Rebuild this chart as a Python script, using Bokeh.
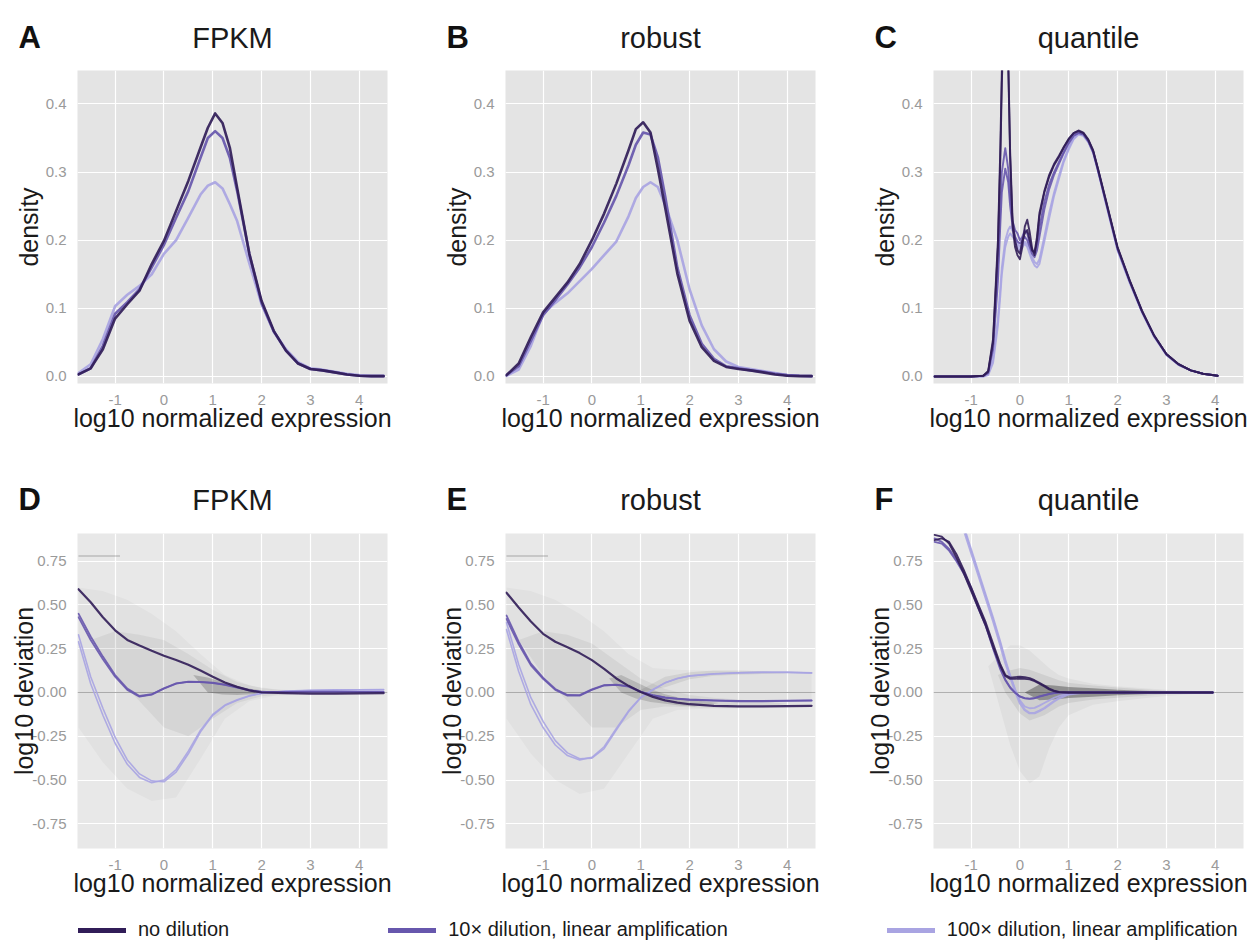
from bokeh.plotting import figure
from bokeh.layouts import column, row
from bokeh.models import (Label, Legend, LegendItem, FixedTicker,
                          NumeralTickFormatter, Span, Range1d)
from bokeh.embed import file_html
from bokeh.resources import INLINE

nan = float("nan")
FONT = "Liberation Sans"

# ---------------- categories / labels ----------------
series_labels = ["no dilution", "10× dilution, linear amplification",
                 "100× dilution, linear amplification"]
series_colors = ["#311d58", "#6757ad", "#a9a4e2"]
panel_letters = ["A", "B", "C", "D", "E", "F"]
panel_titles = ["FPKM", "robust", "quantile", "FPKM", "robust", "quantile"]
x_label = "log10 normalized expression"
y_label_top = "density"
y_label_bottom = "log10 deviation"
x_ticks = [-1, 0, 1, 2, 3, 4]
dens_ticks = [0.0, 0.1, 0.2, 0.3, 0.4]
dev_ticks = [-0.75, -0.5, -0.25, 0.0, 0.25, 0.5, 0.75]
x_limits = [-1.77, 4.58]
dens_limits = [-0.0103, 0.449]
dev_limits = [-0.891, 0.908]
zero_level = 0.0

# ---------------- A / B : density ----------------
x_ab = [-1.75, -1.5, -1.25, -1.0, -0.75, -0.5, -0.25, 0.0, 0.25, 0.5, 0.75, 0.9, 1.05,
        1.2, 1.35, 1.5, 1.75, 2.0, 2.25, 2.5, 2.75, 3.0, 3.25, 3.5, 3.75, 4.0, 4.25, 4.5]
a_none = [0.003, 0.012, 0.04, 0.085, 0.106, 0.126, 0.165, 0.199, 0.243, 0.287, 0.336, 0.365, 0.386,
          0.372, 0.336, 0.277, 0.18, 0.111, 0.067, 0.038, 0.019, 0.011, 0.009, 0.006, 0.003, 0.001, 0.0005, 0.0005]
a_10x = [0.003, 0.012, 0.045, 0.092, 0.109, 0.128, 0.16, 0.193, 0.233, 0.272, 0.321, 0.35, 0.36,
         0.35, 0.321, 0.272, 0.18, 0.108, 0.066, 0.038, 0.019, 0.011, 0.009, 0.006, 0.003, 0.001, 0.0005, 0.0005]
a_100x = [0.005, 0.018, 0.055, 0.103, 0.12, 0.133, 0.15, 0.18, 0.2, 0.233, 0.267, 0.28, 0.285,
          0.276, 0.253, 0.228, 0.166, 0.106, 0.066, 0.04, 0.021, 0.012, 0.01, 0.007, 0.004, 0.002, 0.001, 0.001]
b_none = [0.002, 0.019, 0.058, 0.094, 0.116, 0.138, 0.165, 0.2, 0.239, 0.283, 0.332, 0.363, 0.373,
          0.358, 0.305, 0.248, 0.151, 0.082, 0.043, 0.023, 0.014, 0.011, 0.009, 0.006, 0.003, 0.001, 0.0005, 0.0005]
b_10x = [0.002, 0.015, 0.052, 0.09, 0.112, 0.135, 0.16, 0.19, 0.226, 0.265, 0.31, 0.34, 0.358,
         0.355, 0.322, 0.265, 0.16, 0.09, 0.048, 0.026, 0.015, 0.012, 0.009, 0.007, 0.004, 0.002, 0.001, 0.0005]
b_100x = [0.001, 0.01, 0.045, 0.092, 0.108, 0.122, 0.14, 0.158, 0.178, 0.198, 0.235, 0.262, 0.278,
          0.285, 0.278, 0.252, 0.2, 0.128, 0.075, 0.04, 0.022, 0.014, 0.011, 0.008, 0.005, 0.002, 0.001, 0.0005]

# ---------------- C : density, quantile (two replicates each) ----------------
x_c = [-1.75, -1.0, -0.75, -0.65, -0.55, -0.45, -0.4, -0.37, -0.3, -0.24, -0.2, -0.15, -0.1, -0.05,
       0.0, 0.05, 0.1, 0.15, 0.2, 0.25, 0.3, 0.35, 0.4, 0.5, 0.6, 0.7, 0.8, 0.9, 1.0, 1.1, 1.2, 1.3,
       1.4, 1.5, 1.6, 1.75, 2.0, 2.25, 2.5, 2.75, 3.0, 3.25, 3.5, 3.75, 4.05]
c_none_1 = [0, 0, 0.001, 0.008, 0.055, 0.2, 0.34, 0.45, 0.62, 0.46, 0.32, 0.22, 0.19, 0.178,
            0.172, 0.19, 0.22, 0.23, 0.212, 0.188, 0.178, 0.2, 0.235, 0.27, 0.293, 0.31, 0.322, 0.336, 0.348, 0.357, 0.361, 0.358,
            0.348, 0.332, 0.305, 0.262, 0.19, 0.141, 0.097, 0.06, 0.033, 0.018, 0.009, 0.004, 0.001]
c_none_2 = [0, 0, 0.001, 0.007, 0.05, 0.19, 0.32, 0.43, 0.6, 0.47, 0.33, 0.23, 0.2, 0.185,
            0.18, 0.2, 0.21, 0.215, 0.2, 0.185, 0.182, 0.205, 0.24, 0.272, 0.296, 0.312, 0.324, 0.337, 0.349, 0.357, 0.36, 0.357,
            0.347, 0.331, 0.304, 0.261, 0.189, 0.14, 0.096, 0.06, 0.033, 0.018, 0.009, 0.004, 0.001]
c_10x_1 = [0, 0, 0.001, 0.006, 0.045, 0.16, 0.25, 0.3, 0.335, 0.305, 0.265, 0.228, 0.215, 0.21,
           0.2, 0.205, 0.215, 0.21, 0.195, 0.184, 0.182, 0.195, 0.218, 0.256, 0.282, 0.3, 0.315, 0.33, 0.344, 0.354, 0.358, 0.356,
           0.346, 0.33, 0.303, 0.26, 0.188, 0.14, 0.096, 0.06, 0.033, 0.018, 0.009, 0.004, 0.001]
c_10x_2 = [0, 0, 0.001, 0.005, 0.04, 0.14, 0.225, 0.27, 0.305, 0.285, 0.25, 0.22, 0.205, 0.198,
           0.195, 0.2, 0.205, 0.2, 0.19, 0.18, 0.175, 0.185, 0.205, 0.245, 0.275, 0.296, 0.312, 0.328, 0.342, 0.353, 0.357, 0.355,
           0.345, 0.329, 0.302, 0.259, 0.187, 0.139, 0.095, 0.059, 0.032, 0.017, 0.009, 0.004, 0.001]
c_100x_1 = [0, 0, 0.0, 0.003, 0.025, 0.085, 0.13, 0.16, 0.2, 0.215, 0.22, 0.214, 0.205, 0.195,
            0.19, 0.194, 0.198, 0.194, 0.185, 0.175, 0.168, 0.165, 0.172, 0.205, 0.24, 0.27, 0.295, 0.318, 0.336, 0.35, 0.356, 0.354,
            0.345, 0.329, 0.302, 0.258, 0.186, 0.138, 0.095, 0.059, 0.032, 0.017, 0.009, 0.004, 0.001]
c_100x_2 = [0, 0, 0.0, 0.002, 0.02, 0.075, 0.12, 0.15, 0.19, 0.205, 0.21, 0.205, 0.2, 0.19,
            0.185, 0.19, 0.195, 0.19, 0.18, 0.17, 0.163, 0.16, 0.165, 0.198, 0.232, 0.265, 0.29, 0.315, 0.333, 0.348, 0.355, 0.353,
            0.344, 0.328, 0.301, 0.257, 0.185, 0.137, 0.094, 0.058, 0.032, 0.017, 0.009, 0.004, 0.001]

# ---------------- D / E : deviation ----------------
x_dev = [-1.75, -1.5, -1.25, -1.0, -0.75, -0.5, -0.25, 0.0, 0.25, 0.5, 0.75, 1.0, 1.25, 1.5,
         1.75, 2.0, 2.5, 3.0, 3.5, 4.0, 4.5]
d_none = [0.59, 0.515, 0.43, 0.355, 0.30, 0.268, 0.238, 0.21, 0.186, 0.158, 0.125, 0.09, 0.057, 0.032,
          0.012, 0.0, -0.004, -0.006, -0.006, -0.005, -0.004]
d_10x_1 = [0.45, 0.32, 0.205, 0.1, 0.022, -0.02, -0.01, 0.024, 0.052, 0.062, 0.061, 0.056, 0.045, 0.03,
           0.013, 0.004, 0.004, 0.005, 0.005, 0.004, 0.003]
d_10x_2 = [0.43, 0.3, 0.19, 0.09, 0.015, -0.024, -0.012, 0.022, 0.05, 0.06, 0.059, 0.054, 0.043, 0.028,
           0.012, 0.003, 0.003, 0.004, 0.004, 0.003, 0.002]
d_100x_1 = [0.33, 0.09, -0.09, -0.255, -0.385, -0.465, -0.505, -0.51, -0.455, -0.35, -0.225, -0.13, -0.075, -0.045,
            -0.02, -0.005, 0.008, 0.012, 0.015, 0.016, 0.017]
d_100x_2 = [0.29, 0.05, -0.13, -0.29, -0.41, -0.485, -0.515, -0.5, -0.44, -0.335, -0.215, -0.125, -0.072, -0.042,
            -0.018, -0.004, 0.007, 0.011, 0.013, 0.014, 0.015]
e_none = [0.57, 0.485, 0.405, 0.335, 0.29, 0.258, 0.225, 0.185, 0.135, 0.08, 0.038, 0.003, -0.025, -0.045,
          -0.058, -0.067, -0.076, -0.079, -0.079, -0.078, -0.076]
e_10x_1 = [0.44, 0.29, 0.165, 0.085, 0.02, -0.014, -0.015, 0.018, 0.042, 0.045, 0.036, 0.005, -0.015, -0.028,
           -0.035, -0.04, -0.045, -0.048, -0.048, -0.046, -0.045]
e_10x_2 = [0.42, 0.275, 0.155, 0.078, 0.015, -0.018, -0.018, 0.015, 0.04, 0.043, 0.033, 0.003, -0.017, -0.03,
           -0.037, -0.042, -0.047, -0.05, -0.05, -0.048, -0.047]
e_100x_1 = [0.40, 0.16, -0.03, -0.165, -0.275, -0.345, -0.378, -0.375, -0.32, -0.215, -0.11, -0.03, 0.015, 0.055,
            0.08, 0.095, 0.107, 0.113, 0.116, 0.116, 0.112]
e_100x_2 = [0.36, 0.12, -0.07, -0.2, -0.3, -0.36, -0.385, -0.37, -0.31, -0.205, -0.105, -0.028, 0.017, 0.056,
            0.08, 0.094, 0.106, 0.112, 0.115, 0.115, 0.111]

# ---------------- F : deviation, quantile ----------------
x_f = [-1.75, -1.6, -1.45, -1.3, -1.15, -1.0, -0.85, -0.7, -0.55, -0.4, -0.3, -0.2, -0.1, 0.0, 0.1,
       0.2, 0.3, 0.4, 0.5, 0.6, 0.7, 0.8, 1.0, 1.25, 1.5, 2.0, 2.5, 3.0, 3.5, 3.95]
f_none_1 = [0.87, 0.88, 0.86, 0.79, 0.7, 0.6, 0.5, 0.4, 0.28, 0.16, 0.1, 0.085, 0.088, 0.09, 0.088,
            0.082, 0.07, 0.055, 0.04, 0.022, 0.01, 0.003, 0.0, 0.0, 0.0, 0.0, 0.0, 0.0, 0.0, 0.0]
f_none_2 = [0.9, 0.89, 0.85, 0.77, 0.68, 0.58, 0.48, 0.38, 0.26, 0.15, 0.095, 0.078, 0.078, 0.08, 0.078,
            0.075, 0.065, 0.05, 0.034, 0.018, 0.007, 0.002, 0.0, 0.0, 0.0, 0.0, 0.0, 0.0, 0.0, 0.0]
f_10x_1 = [0.88, 0.86, 0.82, 0.76, 0.69, 0.6, 0.49, 0.39, 0.26, 0.14, 0.075, 0.03, 0.0, -0.022, -0.032,
           -0.035, -0.032, -0.022, -0.015, -0.008, -0.003, 0.0, 0.0, 0.0, 0.0, 0.0, 0.0, 0.0, 0.0, 0.0]
f_10x_2 = [0.86, 0.85, 0.81, 0.75, 0.68, 0.59, 0.48, 0.38, 0.25, 0.13, 0.07, 0.027, -0.002, -0.024, -0.034,
           -0.036, -0.033, -0.024, -0.016, -0.009, -0.004, -0.001, 0.0, 0.0, 0.0, 0.0, 0.0, 0.0, 0.0, 0.0]
f_100x_1 = [nan, nan, nan, nan, 0.93, 0.8, 0.67, 0.54, 0.41, 0.27, 0.17, 0.09, 0.01, -0.06, -0.1,
            -0.118, -0.118, -0.105, -0.09, -0.07, -0.05, -0.033, -0.01, -0.002, 0.0, 0.0, 0.0, 0.0, 0.0, 0.0]
f_100x_2 = [nan, nan, nan, nan, 0.95, 0.82, 0.69, 0.56, 0.43, 0.29, 0.19, 0.1, 0.02, -0.045, -0.08,
            -0.09, -0.088, -0.075, -0.06, -0.045, -0.03, -0.02, -0.006, -0.001, 0.0, 0.0, 0.0, 0.0, 0.0, 0.0]

# ---------------- point clouds (envelopes of the grey scatter) ----------------
cloud_d_x = [-1.75, -1.25, -0.75, -0.25, 0.25, 0.75, 1.25, 1.75, 2.25, 2.75, 3.5, 4.5]
cloud_d_hi = [0.6, 0.58, 0.53, 0.45, 0.35, 0.22, 0.1, 0.04, 0.02, 0.012, 0.008, 0.005]
cloud_d_lo = [-0.2, -0.4, -0.55, -0.62, -0.6, -0.38, -0.15, -0.05, -0.02, -0.012, -0.008, -0.005]
core_d_x = [-1.5, -1.0, -0.5, 0.0, 0.5, 1.0, 1.5, 2.0, 2.5, 3.0]
core_d_hi = [0.3, 0.35, 0.33, 0.3, 0.22, 0.13, 0.06, 0.025, 0.012, 0.004]
core_d_lo = [0.3, 0.1, -0.05, -0.2, -0.25, -0.15, -0.06, -0.022, -0.01, -0.004]
dense_d_x = [0.6, 0.9, 1.2, 1.5, 1.8, 2.1, 2.4]
dense_d_hi = [0.1, 0.085, 0.06, 0.035, 0.02, 0.008, 0.002]
dense_d_lo = [0.1, 0.0, -0.012, -0.015, -0.01, -0.006, -0.002]

cloud_e_x = [-1.75, -1.25, -0.75, -0.25, 0.25, 0.75, 1.25, 1.75, 2.25, 2.75, 3.5, 4.5]
cloud_e_hi = [0.6, 0.58, 0.53, 0.45, 0.35, 0.22, 0.14, 0.13, 0.125, 0.122, 0.12, 0.118]
cloud_e_lo = [-0.15, -0.35, -0.5, -0.58, -0.55, -0.35, -0.15, -0.1, -0.095, -0.092, -0.09, -0.085]
core_e_x = [-1.5, -1.0, -0.5, 0.0, 0.5, 1.0, 1.5, 2.0, 2.5, 3.0, 3.5, 4.0]
core_e_hi = [0.3, 0.35, 0.33, 0.28, 0.18, 0.08, 0.02, -0.015, -0.03, -0.04, -0.05, -0.065]
core_e_lo = [0.3, 0.1, -0.05, -0.2, -0.2, -0.1, -0.08, -0.085, -0.088, -0.088, -0.085, -0.065]
branch_e_x = [0.9, 1.5, 2.0, 2.5, 3.0, 3.5, 4.0]
branch_e_hi = [0.0, 0.09, 0.115, 0.125, 0.125, 0.122, 0.11]
branch_e_lo = [0.0, 0.03, 0.075, 0.095, 0.102, 0.105, 0.11]
dense_e_x = [0.35, 0.6, 0.9, 1.2, 1.5, 1.8, 2.1, 2.6]
dense_e_hi = [0.08, 0.1, 0.06, 0.02, -0.01, -0.03, -0.045, -0.06]
dense_e_lo = [0.08, 0.0, -0.035, -0.055, -0.065, -0.075, -0.08, -0.06]

cloud_f_x = [-0.65, -0.4, -0.2, 0.0, 0.2, 0.4, 0.6, 0.8, 1.0, 1.5, 2.0, 2.5, 3.0, 3.5, 3.95]
cloud_f_hi = [0.15, 0.22, 0.27, 0.27, 0.24, 0.19, 0.14, 0.1, 0.08, 0.05, 0.035, 0.025, 0.015, 0.01, 0.005]
cloud_f_lo = [0.15, -0.1, -0.3, -0.45, -0.52, -0.48, -0.32, -0.2, -0.13, -0.07, -0.05, -0.035, -0.02, -0.01, -0.005]
core_f_x = [-0.45, -0.3, 0.0, 0.2, 0.5, 0.8, 1.0, 1.5, 2.0, 2.5, 3.0, 3.5]
core_f_hi = [0.1, 0.12, 0.14, 0.13, 0.1, 0.07, 0.055, 0.04, 0.028, 0.018, 0.01, 0.0]
core_f_lo = [0.1, 0.0, -0.12, -0.16, -0.13, -0.08, -0.06, -0.04, -0.03, -0.02, -0.01, 0.0]
dense_f_x = [0.1, 0.4, 0.7, 1.0, 1.5, 2.0, 2.5, 3.0, 3.5]
dense_f_hi = [0.0, 0.045, 0.04, 0.032, 0.024, 0.016, 0.01, 0.005, 0.0]
dense_f_lo = [0.0, -0.045, -0.04, -0.032, -0.024, -0.016, -0.01, -0.005, 0.0]

streak_x = [-1.75, -0.9]
streak_y = [0.78, 0.78]

# ---------------- layout constants ----------------
ROW_W = [428, 428, 396]
ROW_X0 = [0, 428, 856]
RIGHT_B = [41, 41, 9]
LEFT_B = 77
FRAME_W = 310


def make_panel(i, top_row):
    width = ROW_W[i]
    if top_row:
        height, btop, bbot = 410, 10, 87
        yr, yt, yfmt, ylab, bg = dens_limits, dens_ticks, "0.0", y_label_top, "#e4e4e4"
    else:
        height, btop, bbot = 387, 5, 67
        yr, yt, yfmt, ylab, bg = dev_limits, dev_ticks, "0.00", y_label_bottom, "#e8e8e8"
    p = figure(width=width, height=height, x_range=Range1d(*x_limits), y_range=Range1d(*yr),
               output_backend="svg", toolbar_location=None, tools="",
               min_border_left=LEFT_B, min_border_right=RIGHT_B[i],
               min_border_top=btop, min_border_bottom=bbot)
    p.background_fill_color = bg
    p.border_fill_color = "white"
    p.outline_line_color = None
    p.xaxis.ticker = FixedTicker(ticks=x_ticks)
    p.yaxis.ticker = FixedTicker(ticks=yt)
    p.xaxis.formatter = NumeralTickFormatter(format="0")
    p.yaxis.formatter = NumeralTickFormatter(format=yfmt)
    for ax in (p.xaxis[0], p.yaxis[0]):
        ax.axis_line_color = None
        ax.major_tick_line_color = None
        ax.minor_tick_line_color = None
        ax.major_label_text_font = FONT
        ax.major_label_text_font_size = "15px"
        ax.major_label_text_color = "#9a9a9a"
        ax.major_label_standoff = 5
        ax.axis_label_text_font = FONT
        ax.axis_label_text_font_size = "25px"
        ax.axis_label_text_font_style = "normal"
        ax.axis_label_text_color = "#1a1a1a"
    p.xaxis.axis_label = x_label
    p.yaxis.axis_label = ylab
    p.xaxis.axis_label_standoff = -4
    p.yaxis.axis_label_standoff = 0 if top_row else -9
    p.grid.grid_line_color = "white"
    p.grid.grid_line_width = 1.2
    p.grid.minor_grid_line_color = None
    return p


def make_header(height, baseline, offset):
    h = figure(width=1252, height=height, x_range=Range1d(0, 1252), y_range=Range1d(0, height),
               output_backend="svg", toolbar_location=None, tools="",
               x_axis_location=None, y_axis_location=None, min_border=0)
    h.outline_line_color = None
    h.grid.visible = False
    for i in range(3):
        x0 = ROW_X0[i]
        h.add_layout(Label(x=x0 + LEFT_B + FRAME_W / 2, y=height - baseline, x_units="screen",
                           y_units="screen", text=panel_titles[offset + i], text_align="center",
                           text_baseline="alphabetic", text_font=FONT, text_font_size="29px",
                           text_color="#1a1a1a"))
        h.add_layout(Label(x=x0 + 18, y=height - baseline, x_units="screen", y_units="screen",
                           text=panel_letters[offset + i], text_align="left",
                           text_baseline="alphabetic", text_font=FONT, text_font_size="31px",
                           text_font_style="bold", text_color="#111111"))
    return h


def add_cloud(p, bands):
    for xs, lo, hi, a in bands:
        p.varea(x=xs, y1=lo, y2=hi, fill_color="black", fill_alpha=a)


def add_zero(p):
    p.add_layout(Span(location=zero_level, dimension="width", line_color="#b0b0b0",
                      line_width=1, level="underlay"))


def draw(p, xs, ys, c, w, a=0.92):
    p.line(xs, ys, line_color=c, line_width=w, line_alpha=a, line_join="round", line_cap="round")


C0, C1, C2 = series_colors

# A
pA = make_panel(0, True)
for ys, c in ((a_100x, C2), (a_10x, C1), (a_none, C0)):
    draw(pA, x_ab, ys, c, 2.6)
# B
pB = make_panel(1, True)
for ys, c in ((b_100x, C2), (b_10x, C1), (b_none, C0)):
    draw(pB, x_ab, ys, c, 2.6)
# C
pC = make_panel(2, True)
for ys, c in ((c_100x_1, C2), (c_100x_2, C2), (c_10x_1, C1), (c_10x_2, C1),
              (c_none_1, C0), (c_none_2, C0)):
    draw(pC, x_c, ys, c, 1.9, 0.9)

# D
pD = make_panel(0, False)
add_zero(pD)
add_cloud(pD, [(cloud_d_x, cloud_d_lo, cloud_d_hi, 0.028),
               (core_d_x, core_d_lo, core_d_hi, 0.05),
               (dense_d_x, dense_d_lo, dense_d_hi, 0.18)])
pD.line(streak_x, streak_y, line_color="#555555", line_width=1.5, line_alpha=0.3)
for ys, c, w in ((d_100x_1, C2, 1.6), (d_100x_2, C2, 1.6), (d_10x_1, C1, 1.8), (d_10x_2, C1, 1.8),
                 (d_none, C0, 2.2)):
    draw(pD, x_dev, ys, c, w, 0.9)

# E
pE = make_panel(1, False)
add_zero(pE)
add_cloud(pE, [(cloud_e_x, cloud_e_lo, cloud_e_hi, 0.028),
               (core_e_x, core_e_lo, core_e_hi, 0.05),
               (branch_e_x, branch_e_lo, branch_e_hi, 0.07),
               (dense_e_x, dense_e_lo, dense_e_hi, 0.14)])
pE.line(streak_x, streak_y, line_color="#555555", line_width=1.5, line_alpha=0.3)
for ys, c, w in ((e_100x_1, C2, 1.6), (e_100x_2, C2, 1.6), (e_10x_1, C1, 1.8), (e_10x_2, C1, 1.8),
                 (e_none, C0, 2.2)):
    draw(pE, x_dev, ys, c, w, 0.9)

# F
pF = make_panel(2, False)
add_zero(pF)
add_cloud(pF, [(cloud_f_x, cloud_f_lo, cloud_f_hi, 0.035),
               (core_f_x, core_f_lo, core_f_hi, 0.07),
               (dense_f_x, dense_f_lo, dense_f_hi, 0.3)])
for ys, c, w in ((f_100x_1, C2, 2.4), (f_100x_2, C2, 1.8), (f_10x_1, C1, 1.8), (f_10x_2, C1, 1.8),
                 (f_none_1, C0, 1.9), (f_none_2, C0, 1.9)):
    draw(pF, x_f, ys, c, w, 0.9)

# Headers (panel letters and titles)
head1 = make_header(60, 37, 0)
head2 = make_header(58, 29, 3)

# Legend strip
leg = figure(width=1252, height=26, output_backend="svg", toolbar_location=None, tools="",
             x_range=Range1d(0, 1), y_range=Range1d(0, 1),
             x_axis_location=None, y_axis_location=None, min_border=0)
leg.outline_line_color = None
leg.grid.visible = False
items = []
for lab, col in zip(series_labels, series_colors):
    r = leg.line(x=[nan, nan], y=[nan, nan], line_color=col, line_width=5, line_cap="round")
    items.append(LegendItem(label=lab, renderers=[r]))
legend = Legend(items=items, orientation="horizontal", location=(78, 0), spacing=159,
                glyph_width=48, glyph_height=20, label_standoff=12, padding=0, margin=0,
                border_line_color=None, background_fill_alpha=0,
                label_text_font=FONT, label_text_font_size="20px", label_text_color="#1a1a1a")
leg.add_layout(legend)

page = column(head1, row(pA, pB, pC), head2, row(pD, pE, pF), leg)
open("out.html", "w").write(file_html(page, INLINE))
